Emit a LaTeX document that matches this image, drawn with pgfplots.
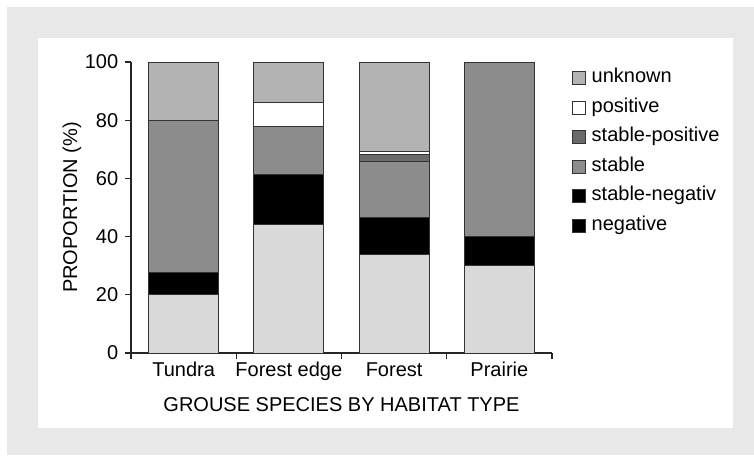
\documentclass[border=0pt]{standalone}
\usepackage{fontspec}
\setmainfont{Liberation Sans}
\usepackage{pgfplots}
\pgfplotsset{compat=1.18}
\definecolor{bgout}{HTML}{E8E8E8}
\definecolor{cneg}{HTML}{D9D9D9}
\definecolor{csneg}{HTML}{000000}
\definecolor{cstab}{HTML}{8C8C8C}
\definecolor{cspos}{HTML}{6A6A6A}
\definecolor{cpos}{HTML}{FFFFFF}
\definecolor{cunk}{HTML}{B3B3B3}
\pgfplotsset{boxlegend/.style={legend image code/.code={\draw[##1] (0pt,-6.5pt) rectangle (13pt,6.5pt);}}}
\begin{document}
\fontsize{20pt}{23pt}\selectfont
\begin{tikzpicture}
\useasboundingbox (0,0) rectangle (754pt,-455pt);
\fill[bgout] (7pt,-7pt) rectangle (754pt,-455pt);
\fill[white] (38pt,-38pt) rectangle (733pt,-428pt);
\begin{axis}[
 at={(131pt,-353pt)}, anchor=south west,
 scale only axis, width=421pt, height=291pt,
 xmin=0, xmax=4, ymin=0, ymax=100,
 axis x line=bottom, axis y line=left,
 axis line style={-, line width=1.2pt, black!85},
 ybar stacked, bar width=70pt,
 xtick={0,1,2,3,4},
 xticklabels={Tundra,Forest edge,Forest,Prairie,{}},
 xticklabel style={anchor=base, xshift=52.6pt, yshift=-17pt},
 ytick={0,20,40,60,80,100},
 tick style={line width=1.2pt, black!85},
 tick align=outside, major tick length=6pt,
 /pgf/number format/assume math mode=true,
 xlabel={GROUSE SPECIES BY HABITAT TYPE},
 ylabel={PROPORTION (\%)},
 every axis x label/.style={at={(axis description cs:0.5,0)}, anchor=base, yshift=-58.7pt},
 every axis y label/.style={at={(axis description cs:0,0.5)}, rotate=90, anchor=base, yshift=54pt},
 every axis plot/.append style={draw=black!80, line width=1pt},
 legend style={at={(1.0468,0.975)}, anchor=north west, draw=none, fill=none,
   inner sep=0pt, row sep=12pt, column sep=6pt,
   nodes={inner sep=0pt, text height=13.5pt, text depth=4pt},
   cells={anchor=west}},
]
\addplot[fill=cneg, forget plot] coordinates {(0.5,20) (1.5,44) (2.5,33.7) (3.5,30)};
\addplot[fill=csneg, forget plot] coordinates {(0.5,7.6) (1.5,17.2) (2.5,12.8) (3.5,10)};
\addplot[fill=cstab, forget plot] coordinates {(0.5,52.4) (1.5,16.5) (2.5,19.2) (3.5,60)};
\addplot[fill=cspos, forget plot] coordinates {(0.5,0) (1.5,0) (2.5,2.5) (3.5,0)};
\addplot[fill=cpos, forget plot] coordinates {(0.5,0) (1.5,8.4) (2.5,1) (3.5,0)};
\addplot[fill=cunk, forget plot] coordinates {(0.5,20) (1.5,13.9) (2.5,30.8) (3.5,0)};
\addlegendimage{boxlegend, fill=cunk, draw=black!80, line width=0.8pt}
\addlegendentry{unknown}
\addlegendimage{boxlegend, fill=cpos, draw=black!80, line width=0.8pt}
\addlegendentry{positive}
\addlegendimage{boxlegend, fill=cspos, draw=black!80, line width=0.8pt}
\addlegendentry{stable-positive}
\addlegendimage{boxlegend, fill=cstab, draw=black!80, line width=0.8pt}
\addlegendentry{stable}
\addlegendimage{boxlegend, fill=black, draw=black!80, line width=0.8pt}
\addlegendentry{stable-negativ}
\addlegendimage{boxlegend, fill=black, draw=black!80, line width=0.8pt}
\addlegendentry{negative}
\end{axis}
\end{tikzpicture}
\end{document}
